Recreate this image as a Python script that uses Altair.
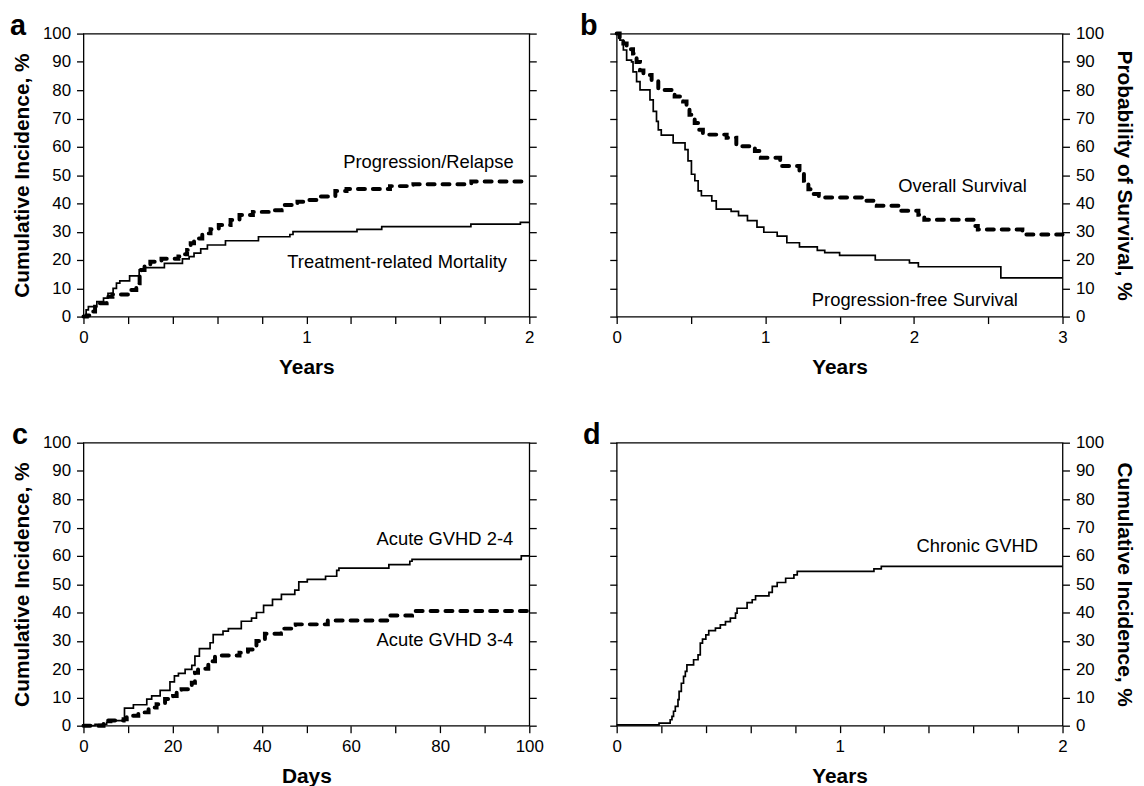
import altair as alt
import pandas as pd

FONT = "Liberation Sans"

# ---------------- data ----------------
# Panel a: cumulative incidence (years)
trm_t = [0, 0.012, 0.022, 0.06, 0.09, 0.11, 0.133, 0.148, 0.163, 0.207, 0.25, 0.274, 0.363,
         0.444, 0.474, 0.496, 0.526, 0.556, 0.637, 0.785, 0.926, 0.94, 1.227, 1.338, 1.738, 1.96, 2.0]
trm_v = [0, 2.4, 3.5, 5.3, 6.5, 8.2, 10.0, 11.8, 12.6, 14.4, 16.5, 17.3, 18.8,
         20.4, 21.2, 22.4, 23.9, 25.3, 26.8, 28.2, 29.0, 30.0, 30.8, 31.8, 32.7, 33.3, 33.3]
rel_t = [0, 0.015, 0.037, 0.052, 0.06, 0.104, 0.11, 0.13, 0.207, 0.237, 0.252, 0.26, 0.274, 0.30,
         0.35, 0.426, 0.444, 0.465, 0.481, 0.496, 0.533, 0.57, 0.607, 0.66, 0.70, 0.76, 0.844,
         0.889, 0.96, 0.99, 1.056, 1.13, 1.18, 1.375, 1.48, 1.74, 2.0]
rel_v = [0, 0.4, 1.8, 3.5, 4.7, 5.9, 7.0, 7.8, 9.4, 11.8, 14.7, 16.5, 18.0, 19.4,
         20.4, 21.2, 22.0, 23.5, 25.9, 27.6, 29.4, 30.9, 32.4, 34.1, 35.9, 37.0, 37.6,
         39.4, 40.6, 41.2, 42.4, 44.4, 45.1, 46.1, 46.8, 47.7, 47.7]

# Panel b: survival probability (years)
os_t = [0, 0.02, 0.045, 0.067, 0.11, 0.134, 0.157, 0.18, 0.235, 0.28, 0.39, 0.447, 0.47, 0.49,
        0.525, 0.548, 0.58, 0.74, 0.805, 0.93, 0.97, 1.1, 1.23, 1.26, 1.29, 1.32, 1.36, 1.66,
        1.75, 1.9, 2.03, 2.07, 2.41, 2.43, 2.73, 3.0]
os_v = [100, 98.5, 96.5, 94.5, 93, 90, 87, 85.4, 83.3, 80.1, 77.8, 76, 73.7, 71.3,
        68.4, 66, 64.3, 63.2, 60.2, 58.5, 56.1, 53.2, 50.9, 48, 45, 43.3, 42.1, 40.9,
        39.2, 37.4, 36.0, 34.2, 32.0, 30.8, 29.0, 29.0]
pfs_t = [0, 0.022, 0.045, 0.067, 0.1, 0.11, 0.134, 0.157, 0.224, 0.246, 0.268, 0.28, 0.3, 0.38,
         0.46, 0.48, 0.503, 0.526, 0.548, 0.57, 0.64, 0.67, 0.77, 0.82, 0.88, 0.944, 0.99, 1.08,
         1.145, 1.23, 1.35, 1.40, 1.50, 1.74, 1.97, 2.03, 2.585, 3.0]
pfs_v = [100, 97.7, 94.2, 90.6, 90.0, 86.5, 83.0, 80.1, 76.6, 72.5, 69.0, 66.0, 64.1, 61.4,
         59.0, 55.0, 50.3, 48.0, 44.4, 42.7, 40.9, 38.0, 37.2, 35.7, 33.9, 31.6, 29.8, 28.4,
         26.1, 24.6, 23.4, 22.6, 21.6, 20.0, 19.0, 17.6, 13.7, 13.7]

# Panel c: acute GVHD (days)
a24_t = [0, 2.6, 5.2, 6.3, 9.2, 11.2, 14.2, 15.3, 17.2, 19.4, 20.4, 21.3, 22.8, 24.3, 25.0, 26.0,
         28.4, 29.1, 31.3, 32.5, 35.4, 37.7, 38.8, 40.4, 42.4, 44.4, 47.4, 48.3, 50.2, 54.3,
         56.8, 57.3, 68.5, 73.2, 73.7, 98.2, 100]
a24_v = [0, 0.5, 1.2, 1.8, 6.2, 7.4, 9.4, 10.5, 12.5, 15.5, 17.6, 18.5, 19.9, 21.3, 24.6, 27.2,
         29.3, 32.2, 33.4, 34.3, 36.9, 38.0, 40.0, 42.5, 44.6, 46.4, 47.9, 50.8, 51.7, 52.8,
         54.9, 55.7, 56.9, 58.1, 58.8, 60.0, 60.0]
a34_t = [0, 4.5, 9.0, 9.7, 12.3, 14.6, 15.7, 16.4, 18.3, 20.1, 20.9, 22.0, 24.3, 25.0, 25.7,
         28.0, 29.5, 35.0, 36.9, 38.8, 40.7, 44.3, 47.6, 54.8, 68.2, 73.7, 100]
a34_v = [0, 1.8, 2.3, 3.5, 4.7, 5.9, 6.4, 7.6, 9.4, 10.5, 12.3, 12.9, 15.2, 18.7, 20.1,
         22.8, 24.8, 25.8, 26.9, 29.9, 32.5, 34.3, 35.8, 37.2, 38.9, 40.5, 40.5]

# Panel d: chronic GVHD (years)
cg_t = [0, 0.19, 0.24, 0.248, 0.255, 0.263, 0.275, 0.28, 0.29, 0.30, 0.308, 0.315, 0.345,
        0.365, 0.375, 0.385, 0.40, 0.413, 0.443, 0.465, 0.488, 0.51, 0.533, 0.54, 0.585,
        0.608, 0.623, 0.683, 0.698, 0.72, 0.758, 0.795, 0.81, 1.154, 1.187, 2.0]
cg_v = [0.3, 0.9, 2.1, 3.3, 5.1, 6.8, 9.2, 12.1, 15.0, 17.4, 19.2, 21.5, 23.3,
        25.0, 29.2, 30.6, 32.1, 33.6, 34.5, 35.6, 36.8, 38.0, 39.8, 41.5, 43.5,
        44.5, 45.9, 47.1, 49.2, 50.6, 52.1, 53.3, 54.5, 55.4, 56.3, 56.3]

# Curve annotations: text, x (right edge), y (baseline)
notes_a = (["Progression/Relapse", "Treatment-related Mortality"], [1.93, 1.90], [52.6, 17.1])
notes_b = (["Overall Survival", "Progression-free Survival"], [2.76, 2.70], [43.9, 3.8])
notes_c = (["Acute GVHD 2-4", "Acute GVHD 3-4"], [96.4, 96.4], [64.0, 28.1])
notes_d = (["Chronic GVHD"], [1.89], [61.5])

y_ticks = [0, 10, 20, 30, 40, 50, 60, 70, 80, 90, 100]
yr2_ticks = [0, 0.2, 0.4, 0.6, 0.8, 1.0, 1.2, 1.4, 1.6, 1.8, 2.0]
yr3_ticks = [0, 0.5, 1.0, 1.5, 2.0, 2.5, 3.0]
day_ticks = [0, 10, 20, 30, 40, 50, 60, 70, 80, 90, 100]

W, H = 449, 285
INT_EXPR = "abs(datum.value - round(datum.value)) < 0.001 ? format(datum.value, 'd') : ''"
DAY_EXPR = "datum.value % 20 == 0 ? datum.label : ''"

common_axis = dict(grid=False, domain=False, tickSize=7, tickWidth=1.3, tickColor="black",
                   labelColor="black", labelFont=FONT, labelFontSize=17, labelPadding=6,
                   titleFont=FONT, titleFontSize=21, titleFontWeight="bold", titleColor="black")


def x_enc(domain, ticks, title, expr):
    return alt.X("t:Q", scale=alt.Scale(domain=domain, nice=False, zero=False),
                 axis=alt.Axis(values=ticks, title=title, labelExpr=expr, labelFlush=False,
                               labelOverlap=False, titlePadding=11, **common_axis))


def panel(letter, letter_dx, xdom, xticks, xexpr, xtitle, ytitle, lab_side,
          solid, dashed, notes):
    unl_side = "right" if lab_side == "left" else "left"
    X = x_enc(xdom, xticks, xtitle, xexpr)
    yscale = alt.Scale(domain=[0, 100], nice=False)
    y_lab = alt.Y("v:Q", scale=yscale,
                  axis=alt.Axis(orient=lab_side, values=y_ticks, title=ytitle,
                                titlePadding=10, labelOverlap=False, **common_axis))
    y_unl = alt.Y("v:Q", scale=yscale,
                  axis=alt.Axis(orient=unl_side, values=y_ticks, title=None, labels=False,
                                **common_axis))
    y_none = alt.Y("v:Q", scale=yscale, axis=None)

    layers = []
    st, sv = solid
    layers.append(alt.Chart(pd.DataFrame({"t": st, "v": sv})).mark_line(
        interpolate="step-after", color="black", strokeWidth=1.7).encode(x=X, y=y_lab))
    if dashed is not None:
        dt, dv = dashed
        layers.append(alt.Chart(pd.DataFrame({"t": dt, "v": dv})).mark_line(
            interpolate="step-after", color="black", strokeWidth=4, strokeDash=[7, 8],
            strokeCap="round").encode(x=X, y=y_none))
    txt, nx, ny = notes
    layers.append(alt.Chart(pd.DataFrame({"t": nx, "v": ny, "txt": txt})).mark_text(
        align="right", baseline="alphabetic", font=FONT, fontSize=18.5, color="black").encode(
        x=X, y=y_unl, text="txt:N"))
    layers.append(alt.Chart(pd.DataFrame({"letter": [letter]})).mark_text(
        align="left", baseline="alphabetic", font=FONT, fontSize=29, fontWeight="bold",
        color="black").encode(x=alt.value(letter_dx), y=alt.value(1), text="letter:N"))
    return alt.layer(*layers).properties(width=W, height=H).resolve_axis(y="independent")


pa = panel("a", -74, [0, 2], yr2_ticks, INT_EXPR, "Years", "Cumulative Incidence, %", "left",
           (trm_t, trm_v), (rel_t, rel_v), notes_a)
pb = panel("b", -37, [0, 3], yr3_ticks, INT_EXPR, "Years", "Probability of Survival, %", "right",
           (pfs_t, pfs_v), (os_t, os_v), notes_b)
pc = panel("c", -72, [0, 100], day_ticks, DAY_EXPR, "Days", "Cumulative Incidence, %", "left",
           (a24_t, a24_v), (a34_t, a34_v), notes_c)
pd_ = panel("d", -34, [0, 2], yr2_ticks, INT_EXPR, "Years", "Cumulative Incidence, %", "right",
            (cg_t, cg_v), None, notes_d)

chart = alt.concat(pa, pb, pc, pd_, columns=2, spacing={"row": 127, "column": 88},
                   bounds="flush").properties(
    padding={"left": 1, "top": 0, "right": 0, "bottom": 0}
).configure(background="white", font=FONT).configure_view(stroke="black", strokeWidth=1.3)

chart.save("out.html", embed_options={"renderer": "svg", "actions": False})
